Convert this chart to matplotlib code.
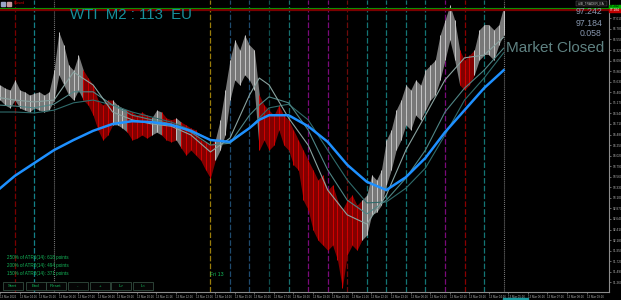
import numpy as np
import matplotlib
matplotlib.use("Agg")
import matplotlib.pyplot as plt
from matplotlib.patches import Rectangle

plt.rcParams["lines.scale_dashes"] = False
plt.rcParams["font.family"] = ["Liberation Sans", "DejaVu Sans"]

# ---- price bars, sampled every quarter hour (hours from the 00:00 separator) ----
bar_t = np.arange(-2.75, 23.01, 0.25)
bar_hi = [95.56, 95.49, 95.45, 95.67, 95.45, 95.41, 95.34, 95.38, 95.41, 95.34, 95.41, 95.88,
          96.71, 96.43, 95.99, 95.88, 96.21, 95.88, 95.71, 95.56, 95.23, 95.12, 95.23, 95.23,
          95.12, 95.06, 95.01, 94.97, 94.90, 94.97, 94.90, 94.84, 95.01, 94.97, 94.84, 94.80,
          94.84, 94.75, 94.69, 94.62, 94.58, 94.36, 94.32, 94.25, 94.36, 94.80, 95.45, 96.10,
          96.54, 96.32, 96.65, 96.43, 96.32, 95.34, 95.12, 95.01, 94.90, 95.12, 94.90, 94.80,
          94.58, 94.36, 94.14, 93.92, 93.71, 93.49, 93.60, 93.27, 93.38, 93.05, 92.84, 93.05,
          93.16, 92.94, 93.05, 93.16, 93.60, 93.49, 93.71, 94.36, 94.58, 95.01, 95.23, 95.56,
          95.45, 95.67, 95.56, 95.88, 95.99, 96.10, 96.65, 96.97, 97.30, 96.97, 96.32, 96.10,
          96.21, 96.32, 96.76, 96.87, 96.87, 96.76, 96.87, 97.26]
bar_lo = [95.23, 95.12, 95.06, 95.23, 95.06, 95.01, 94.97, 95.06, 95.01, 94.97, 95.01, 95.23,
          95.78, 95.56, 95.34, 95.23, 95.45, 95.23, 95.12, 94.90, 94.58, 94.36, 94.47, 94.69,
          94.69, 94.62, 94.53, 94.36, 94.40, 94.47, 94.40, 94.47, 94.53, 94.47, 94.36, 94.32,
          94.36, 94.19, 94.03, 94.14, 94.03, 93.92, 93.71, 93.53, 93.92, 94.14, 94.47, 95.23,
          95.67, 95.56, 95.78, 95.67, 95.45, 94.14, 94.36, 94.14, 94.25, 94.58, 94.25, 94.14,
          93.82, 93.71, 93.05, 92.84, 92.40, 92.18, 92.07, 91.96, 92.07, 91.75, 91.14, 91.86,
          92.07, 91.96, 92.18, 92.29, 92.73, 92.79, 92.94, 93.38, 93.71, 94.14, 94.36, 94.69,
          94.58, 94.90, 94.80, 95.01, 95.23, 95.34, 95.67, 96.10, 96.54, 96.10, 95.56, 95.45,
          95.56, 95.78, 96.10, 96.21, 96.21, 96.10, 96.43, 96.65]
# g = normal (grey) bars, r = bars painted red by the filter
bar_state = ("ggggggggggggggggg" "rrrrrr" "ggg" "rrrrr" "gg" "rrr" "g" "rrrrrrr"
             "ggggggggg" "rrrrrrrrrrrrrrrrrrrrr" "gggggggggggggggggggg" "rrr" "ggggggg")

# ---- moving averages ----
ma_t = [-2.75, -2, -1, 0, 1, 2, 3, 4, 5, 6, 7, 8, 9, 10, 10.5, 11, 12, 13, 14, 15,
        16, 17, 18, 19, 20, 21, 22, 23]
ma_fast = [95.28, 95.23, 95.19, 95.23, 95.84, 95.56, 94.97, 94.80, 94.71, 94.66, 94.47, 94.10,
           94.40, 95.34, 95.71, 95.56, 94.84, 94.25, 93.27, 92.73, 92.53, 93.16, 94.14, 94.90,
           95.67, 96.15, 96.21, 96.60]
ma_mid = [95.12, 95.10, 95.06, 95.14, 95.41, 95.41, 95.12, 94.90, 94.80, 94.71, 94.53, 94.25,
          94.29, 94.90, 95.12, 95.30, 95.17, 94.58, 93.71, 93.05, 92.75, 93.05, 93.53, 94.14,
          94.97, 95.49, 95.88, 96.36]
ma_slow = [94.97, 94.97, 94.95, 95.01, 95.17, 95.23, 95.12, 94.97, 94.86, 94.75, 94.58, 94.36,
           94.29, 94.62, 94.84, 95.06, 95.14, 94.80, 94.14, 93.49, 92.99, 93.01, 93.31, 93.75,
           94.47, 95.23, 95.71, 96.26]
ma_long = [93.31, 93.58, 93.86, 94.14, 94.36, 94.56, 94.71, 94.77, 94.75, 94.69, 94.56, 94.36,
           94.32, 94.62, 94.80, 94.90, 94.90, 94.66, 94.32, 93.82, 93.45, 93.27, 93.55, 93.97,
           94.53, 95.01, 95.49, 95.88]

# ---- hour markers ----
hour_lines = [-2, -1, 0, 8, 9, 10, 11, 12, 13, 14, 15, 16, 17, 18, 19, 20, 21, 22, 23]
hour_colors = ["#7a0000", "#138088", "grey", "#9a7d0a", "#1f4a6e", "#1f4a6e", "#0f4d4d",
               "#177070", "#7a0a7a", "#7a0a7a", "#6e0a0a", "#137575", "#137575", "#137575",
               "#137575", "#7a0a7a", "#8a0000", "#137575", "grey"]

ask, bid = 97.242, 97.184
spread = 0.058
atr_lines = ["250% of ATR1(14): 618 points",
             "200% of ATR2(14): 494 points",
             "150% of ATR3(14): 371 points"]
buttons = ["Start", "End", "Reset", "-", "+", "L>", "L<"]
price_ticks = np.round(np.arange(91.26, 97.02, 0.23), 3)
time_ticks = np.arange(-2.76, 28, 1.0)
time_labels = ["13 Mar 2026"] + ["13 Mar %02d:%02d" % ((3 + k) % 24, 16) for k in range(1, len(time_ticks))]

W, H = 621, 300
fig = plt.figure(figsize=(W / 100, H / 100), dpi=100, facecolor="black")
ax = fig.add_axes([0, 8 / H, 609 / W, 292 / H], facecolor="black")
ax.set_xlim(-2.762, 28.39)
ax.set_ylim(91.049, 97.41)

for h, c in zip(hour_lines, hour_colors):
    if c == "grey":
        ax.axvline(h, color="#7a7a7a", lw=0.8, dashes=(0.7, 0.7), zorder=1)
    else:
        ax.axvline(h, color=c, lw=0.9, dashes=(4.0, 1.6), zorder=1)

bar_fill = {"g": "#8e8e8e", "r": "#9a0000"}
bar_edge = {"g": "#c6c6c6", "r": "#d20000"}
for i in range(len(bar_t) - 1):
    s = bar_state[i]
    t0, t1 = bar_t[i], bar_t[i + 1]
    ax.fill_between([t0, t1], [bar_lo[i], bar_lo[i + 1]], [bar_hi[i], bar_hi[i + 1]],
                    color=bar_fill[s], alpha=0.85, lw=0, zorder=2)
ax.vlines(bar_t, bar_lo, bar_hi, colors=[bar_edge[s] for s in bar_state], lw=0.7, zorder=3)

ax.plot(ma_t, ma_slow, color="#2f6b6b", lw=0.8, zorder=4)
ax.plot(ma_t, ma_mid, color="#4f8585", lw=0.8, zorder=4)
ax.plot(ma_t, ma_fast, color="#8aa3a0", lw=0.8, zorder=4)
ax.plot(ma_t, ma_long, color="#1e90ff", lw=1.8, zorder=5)

ax.axhline(ask, color="#00a000", lw=0.8, zorder=6)
ax.axhline(bid, color="#7a0000", lw=1.6, zorder=6)

for s in ["top", "left"]:
    ax.spines[s].set_visible(False)
for s in ["right", "bottom"]:
    ax.spines[s].set_color("#8c8c8c")
    ax.spines[s].set_linewidth(0.8)
ax.yaxis.tick_right()
ax.set_yticks(price_ticks)
ax.set_yticklabels(["%.3f" % p for p in price_ticks])
ax.tick_params(axis="y", colors="#8c8c8c", labelcolor="#b0b0b0", labelsize=2.3,
               length=1.5, width=0.5, pad=1)
ax.set_xticks(time_ticks)
ax.set_xticklabels(time_labels, ha="left")
ax.tick_params(axis="x", colors="#8c8c8c", labelcolor="#b0b0b0", labelsize=2.1,
               length=1.5, width=0.5, pad=0.5)

# ---- overlay in pixel units for terminal widgets ----
ov = fig.add_axes([0, 0, 1, 1], zorder=10)
ov.set_xlim(0, W)
ov.set_ylim(H, 0)
ov.axis("off")
ov.patch.set_alpha(0)

ov.text(70, 15, "WTI  M2 : 113  EU", fontsize=10.8, color="#17909c", va="center")
ov.text(602, 12, "%.3f" % ask, fontsize=6.3, color="#8898b0", va="center", ha="right")
ov.text(602, 23, "%.3f" % bid, fontsize=6.3, color="#8898b0", va="center", ha="right")
ov.text(602, 34, "%.3f" % spread, fontsize=6.3, color="#8898b0", va="center", ha="right")
ov.text(604, 48, "Market Closed", fontsize=11, color="#5f8282", va="center", ha="right")

ov.add_patch(Rectangle((1, 2), 4, 4, color="#9aa6c8"))
ov.add_patch(Rectangle((7, 2), 4, 4, color="#c89aa0"))
ov.text(14, 3.5, "Closed", fontsize=2.6, color="#d00000", va="center")
ov.add_patch(Rectangle((576, 1), 31, 4.5, fc="#101010", ec="#606060", lw=0.3))
ov.text(578, 3.3, "#-IB_TRADER_EA", fontsize=2.3, color="#c0c0c0", va="center")
ov.add_patch(Rectangle((609, 4.5), 12, 3.6, color="#00b000"))
ov.text(610, 6.3, "%.3f" % ask, fontsize=2.3, color="black", va="center")
ov.add_patch(Rectangle((609, 8.6), 12, 3.6, color="#c00000"))
ov.text(610, 10.4, "%.3f" % bid, fontsize=2.3, color="white", va="center")

for k, line in enumerate(atr_lines):
    ov.text(7, 258 + 8 * k, line, fontsize=3.3, color="#14b85a", va="center")

bx = [3, 26, 46, 68, 90, 111, 133]
for x0, lab in zip(bx, buttons):
    ov.add_patch(Rectangle((x0, 282), 19.5, 7.5, fc="#050505", ec="#3c5a4a", lw=0.5))
    ov.text(x0 + 9.75, 286, lab, fontsize=3.2, color="#14b85a", ha="center", va="center")

ov.text(210, 275, "Fri 13", fontsize=3.8, color="#14b85a", va="center")
ov.add_patch(Rectangle((503, 297.5), 25, 2.5, color="#1a9aa0"))

fig.savefig("out.png", dpi=100, facecolor="black")
